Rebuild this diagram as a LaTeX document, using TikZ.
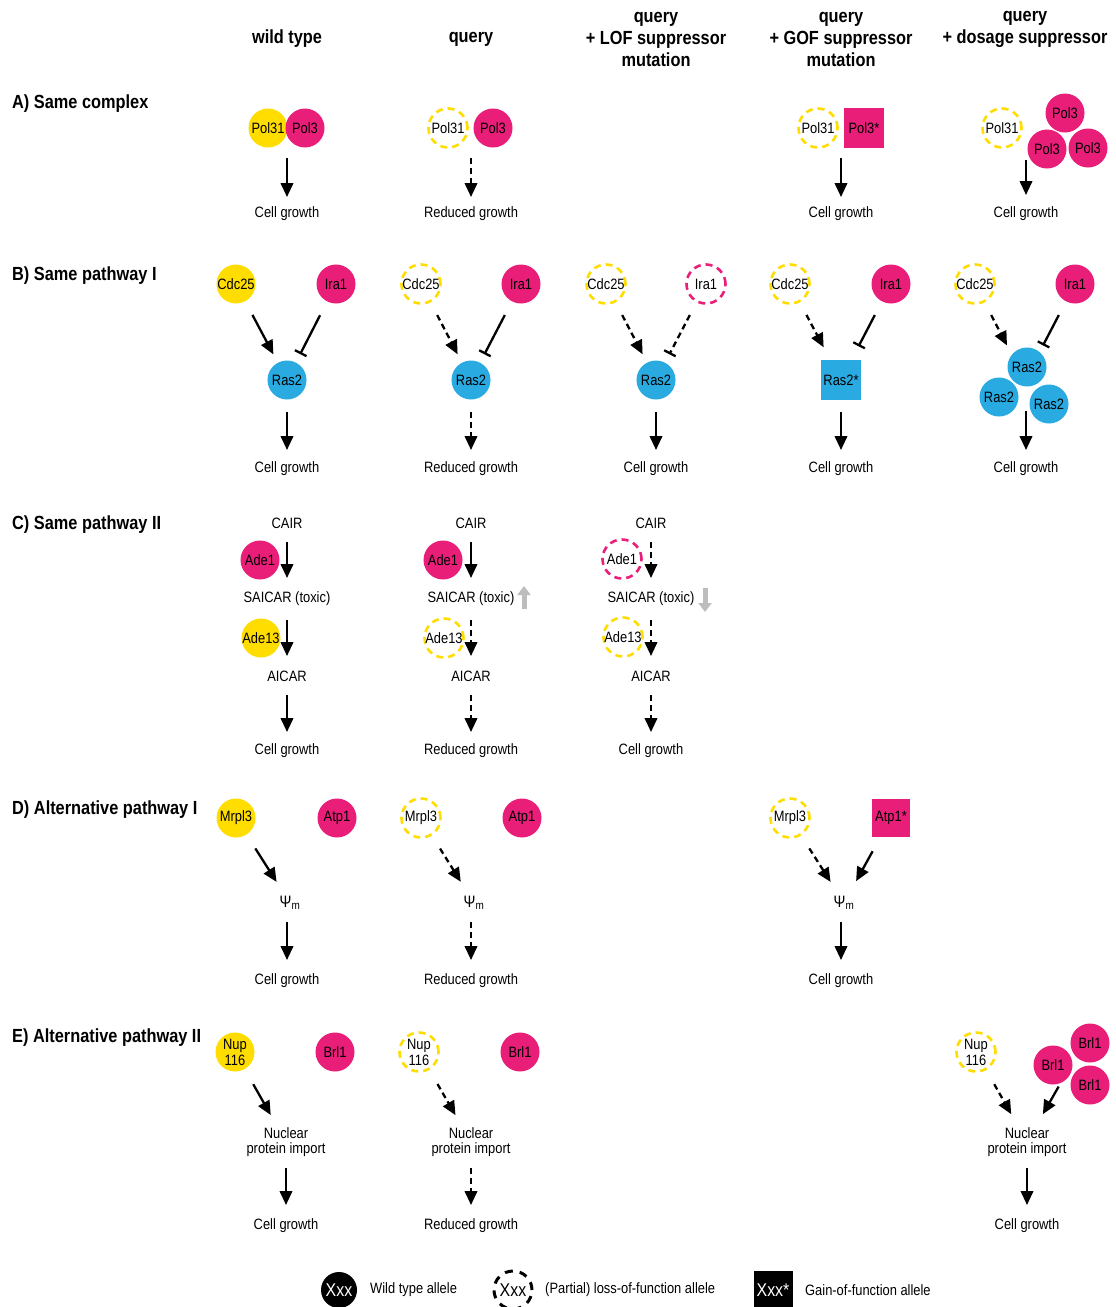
\documentclass[tikz,border=0pt]{standalone}
\usepackage{fontspec}
\setmainfont{Liberation Sans}[FakeStretch=0.86]
\usetikzlibrary{arrows.meta,fit}
\definecolor{yel}{HTML}{FFDD00}
\definecolor{mag}{HTML}{E91E79}
\definecolor{blu}{HTML}{29AAE1}
\definecolor{gry}{HTML}{BDBDBD}
\begin{document}
\begin{tikzpicture}[x=1pt,y=-1pt,
  allele/.style={circle, minimum size=39pt, inner sep=0pt, font=\fontsize{15}{16}\selectfont, align=center},
  wt/.style={allele, fill=#1},
  lf/.style={allele, draw=#1, line width=2.6pt, dash pattern=on 7pt off 5pt},
  gf/.style={rectangle, minimum size=40pt, inner sep=0pt, fill=#1, font=\fontsize{15}{16}\selectfont},
  lb/.style={inner sep=0pt, align=center, font=\fontsize{15}{14.5}\selectfont},
  psi/.style={inner sep=0pt, font=\fontsize{16.5}{16}\selectfont},
  hd/.style={inner sep=0pt, align=center, font=\fontsize{19}{22}\selectfont\bfseries},
  rl/.style={inner sep=0pt, anchor=west, font=\fontsize{19}{19}\selectfont\bfseries},
  act/.style={line width=2.3pt, -{Triangle[length=14pt,width=12.5pt]}},
  dsh/.style={dash pattern=on 6pt off 4pt},
  inh/.style={line width=2.3pt, -{Bar[width=13pt,line width=2.3pt]}},
  grayup/.style={line width=5pt, draw=gry, -{Triangle[length=9pt,width=13pt]}},
  fitbox/.style={inner sep=0pt}
]
\useasboundingbox (0,0) rectangle (1116,1307);

% ---------- headers ----------
\node[hd] (h1) at (287,39) {wild type};
\node[hd] (h2) at (471,39) {query};
\node[hd] (h3) at (656,39) {query\\+ LOF suppressor\\mutation};
\node[hd] (h4) at (841,39) {query\\+ GOF suppressor\\mutation};
\node[hd] (h5) at (1025,29) {query\\+ dosage suppressor};

% ---------- row labels ----------
\node[rl] (rA) at (12,104) {A) Same complex};
\node[rl] (rB) at (12,276) {B) Same pathway I};
\node[rl] (rC) at (12,525) {C) Same pathway II};
\node[rl] (rD) at (12,810) {D) Alternative pathway I};
\node[rl] (rE) at (12,1038) {E) Alternative pathway II};

% ---------- A ----------
\node[wt=yel] (a1x) at (268,128) {Pol31};
\node[wt=mag] (a1y) at (305,128) {Pol3};
\node[lb] (a1g) at (287,214) {Cell growth};
\draw[act, shorten <=30pt, shorten >=17pt] (a1g.center |- a1x.center) -- (a1g.center);

\node[lf=yel] (a2x) at (448,128) {Pol31};
\node[wt=mag] (a2y) at (493,128) {Pol3};
\node[lb] (a2g) at (471,214) {Reduced growth};
\draw[act, dsh, shorten <=30pt, shorten >=17pt] (a2g.center |- a2x.center) -- (a2g.center);

\node[lf=yel] (a4x) at (818,128) {Pol31};
\node[gf=mag] (a4y) at (864,128) {Pol3*};
\node[lb] (a4g) at (841,214) {Cell growth};
\draw[act, shorten <=30pt, shorten >=17pt] (a4g.center |- a4x.center) -- (a4g.center);

\node[lf=yel] (a5x) at (1002,128) {Pol31};
\node[wt=mag] (a5y1) at (1065,113) {Pol3};
\node[wt=mag] (a5y2) at (1047,149) {Pol3};
\node[wt=mag] (a5y3) at (1088,148) {Pol3};
\node[lb] (a5g) at (1026,214) {Cell growth};
\draw[act, shorten <=32pt, shorten >=19pt] (a5g.center |- a5x.center) -- (a5g.center);

% ---------- B ----------
\node[wt=yel] (b1c) at (236,284) {Cdc25};
\node[wt=mag] (b1i) at (336,284) {Ira1};
\node[wt=blu] (b1r) at (287,380) {Ras2};
\node[lb] (b1g) at (287,469) {Cell growth};
\draw[act, shorten <=35pt, shorten >=29pt] (b1c.center) -- (b1r.center);
\draw[inh, shorten <=35pt, shorten >=29pt] (b1i.center) -- (b1r.center);
\draw[act, shorten <=32pt, shorten >=19pt] (b1r.center) -- (b1g.center);

\node[lf=yel] (b2c) at (421,284) {Cdc25};
\node[wt=mag] (b2i) at (521,284) {Ira1};
\node[wt=blu] (b2r) at (471,380) {Ras2};
\node[lb] (b2g) at (471,469) {Reduced growth};
\draw[act, dsh, shorten <=35pt, shorten >=29pt] (b2c.center) -- (b2r.center);
\draw[inh, shorten <=35pt, shorten >=29pt] (b2i.center) -- (b2r.center);
\draw[act, dsh, shorten <=32pt, shorten >=19pt] (b2r.center) -- (b2g.center);

\node[lf=yel] (b3c) at (606,284) {Cdc25};
\node[lf=mag] (b3i) at (706,284) {Ira1};
\node[wt=blu] (b3r) at (656,380) {Ras2};
\node[lb] (b3g) at (656,469) {Cell growth};
\draw[act, dsh, shorten <=35pt, shorten >=29pt] (b3c.center) -- (b3r.center);
\draw[inh, dsh, shorten <=35pt, shorten >=29pt] (b3i.center) -- (b3r.center);
\draw[act, shorten <=32pt, shorten >=19pt] (b3r.center) -- (b3g.center);

\node[lf=yel] (b4c) at (790,284) {Cdc25};
\node[wt=mag] (b4i) at (891,284) {Ira1};
\node[gf=blu] (b4r) at (841,380) {Ras2*};
\node[lb] (b4g) at (841,469) {Cell growth};
\draw[act, dsh, shorten <=35pt, shorten >=37pt] (b4c.center) -- (b4r.center);
\draw[inh, shorten <=35pt, shorten >=38pt] (b4i.center) -- (b4r.center);
\draw[act, shorten <=32pt, shorten >=19pt] (b4r.center) -- (b4g.center);

\node[lf=yel] (b5c) at (975,284) {Cdc25};
\node[wt=mag] (b5i) at (1075,284) {Ira1};
\node[wt=blu] (b5r1) at (1027,367) {Ras2};
\node[wt=blu] (b5r2) at (999,397) {Ras2};
\node[wt=blu] (b5r3) at (1049,404) {Ras2};
\coordinate (b5t) at (1025,380);
\node[lb] (b5g) at (1026,469) {Cell growth};
\draw[act, dsh, shorten <=35pt, shorten >=39pt] (b5c.center) -- (b5t);
\draw[inh, shorten <=35pt, shorten >=39pt] (b5i.center) -- (b5t);
\draw[act, shorten <=31pt, shorten >=19pt] (b5g.center |- b5t) -- (b5g.center);

% ---------- C ----------
\node[lb] (c1a) at (287,523) {CAIR};
\node[lb] (c1b) at (287,599) {SAICAR (toxic)};
\node[lb] (c1c) at (287,676) {AICAR};
\node[lb] (c1g) at (287,751) {Cell growth};
\node[wt=mag] (c1e) at (260,560) {Ade1};
\node[wt=yel] (c1f) at (261,638) {Ade13};
\draw[act, shorten <=19pt, shorten >=21pt] (c1a.center) -- (c1b.center);
\draw[act, shorten <=21pt, shorten >=20pt] (c1b.center) -- (c1c.center);
\draw[act, shorten <=19pt, shorten >=19pt] (c1c.center) -- (c1g.center);

\node[lb] (c2a) at (471,523) {CAIR};
\node[lb] (c2b) at (471,599) {SAICAR (toxic)};
\node[lb] (c2c) at (471,676) {AICAR};
\node[lb] (c2g) at (471,751) {Reduced growth};
\node[wt=mag] (c2e) at (443,560) {Ade1};
\node[lf=yel] (c2f) at (444,638) {Ade13};
\draw[act, shorten <=19pt, shorten >=21pt] (c2a.center) -- (c2b.center);
\draw[act, dsh, shorten <=21pt, shorten >=20pt] (c2b.center) -- (c2c.center);
\draw[act, dsh, shorten <=19pt, shorten >=19pt] (c2c.center) -- (c2g.center);
\coordinate (c2u1) at (524,609);
\coordinate (c2u2) at (524,586);
\draw[grayup] (c2u1) -- (c2u2);

\node[lb] (c3a) at (651,523) {CAIR};
\node[lb] (c3b) at (651,599) {SAICAR (toxic)};
\node[lb] (c3c) at (651,676) {AICAR};
\node[lb] (c3g) at (651,751) {Cell growth};
\node[lf=mag] (c3e) at (622,559) {Ade1};
\node[lf=yel] (c3f) at (623,637) {Ade13};
\draw[act, dsh, shorten <=19pt, shorten >=21pt] (c3a.center) -- (c3b.center);
\draw[act, dsh, shorten <=21pt, shorten >=20pt] (c3b.center) -- (c3c.center);
\draw[act, dsh, shorten <=19pt, shorten >=19pt] (c3c.center) -- (c3g.center);
\coordinate (c3u1) at (705,588);
\coordinate (c3u2) at (705,612);
\draw[grayup] (c3u1) -- (c3u2);

% ---------- D ----------
\node[wt=yel] (d1m) at (236,818) {Mrpl3};
\node[wt=mag] (d1a) at (337,818) {Atp1};
\node[psi] (d1p) at (290,903) {Ψ\textsubscript{m}};
\node[lb] (d1g) at (287,981) {Cell growth};
\draw[act, shorten <=36pt, shorten >=25pt] (d1m.center) -- (d1p.center);
\draw[act, shorten <=19pt, shorten >=21pt] (d1g.center |- d1p.center) -- (d1g.center);

\node[lf=yel] (d2m) at (421,818) {Mrpl3};
\node[wt=mag] (d2a) at (522,818) {Atp1};
\node[psi] (d2p) at (474,903) {Ψ\textsubscript{m}};
\node[lb] (d2g) at (471,981) {Reduced growth};
\draw[act, dsh, shorten <=36pt, shorten >=25pt] (d2m.center) -- (d2p.center);
\draw[act, dsh, shorten <=19pt, shorten >=21pt] (d2g.center |- d2p.center) -- (d2g.center);

\node[lf=yel] (d4m) at (790,818) {Mrpl3};
\node[gf=mag, minimum size=38pt] (d4a) at (891,818) {Atp1*};
\node[psi] (d4p) at (844,903) {Ψ\textsubscript{m}};
\node[lb] (d4g) at (841,981) {Cell growth};
\draw[act, dsh, shorten <=36pt, shorten >=25pt] (d4m.center) -- (d4p.center);
\draw[act, shorten <=38pt, shorten >=25pt] (d4a.center) -- (d4p.center);
\draw[act, shorten <=19pt, shorten >=21pt] (d4g.center |- d4p.center) -- (d4g.center);

% ---------- E ----------
\node[wt=yel] (e1n) at (235,1052) {Nup\\116};
\node[wt=mag] (e1b) at (335,1052) {Brl1};
\node[lb] (e1i) at (286,1142) {Nuclear\\protein import};
\node[lb] (e1g) at (286,1226) {Cell growth};
\draw[act, shorten <=37pt, shorten >=31pt] (e1n.center) -- (e1i.center);
\draw[act, shorten <=26pt, shorten >=21pt] (e1i.center) -- (e1g.center);

\node[lf=yel] (e2n) at (419,1052) {Nup\\116};
\node[wt=mag] (e2b) at (520,1052) {Brl1};
\node[lb] (e2i) at (471,1142) {Nuclear\\protein import};
\node[lb] (e2g) at (471,1226) {Reduced growth};
\draw[act, dsh, shorten <=37pt, shorten >=31pt] (e2n.center) -- (e2i.center);
\draw[act, dsh, shorten <=26pt, shorten >=21pt] (e2i.center) -- (e2g.center);

\node[lf=yel] (e5n) at (976,1052) {Nup\\116};
\node[wt=mag] (e5b1) at (1053,1065) {Brl1};
\node[wt=mag] (e5b2) at (1090,1043) {Brl1};
\node[wt=mag] (e5b3) at (1090,1085) {Brl1};
\node[fitbox, fit=(e5b1)(e5b2)(e5b3)] (e5b) {};
\node[lb] (e5i) at (1027,1142) {Nuclear\\protein import};
\node[lb] (e5g) at (1027,1226) {Cell growth};
\draw[act, dsh, shorten <=37pt, shorten >=32pt] (e5n.center) -- (e5i.center);
\draw[act, shorten <=26pt, shorten >=32pt] (e5b.center) -- (e5i.center);
\draw[act, shorten <=26pt, shorten >=21pt] (e5i.center) -- (e5g.center);

% ---------- legend ----------
\node[wt=black, minimum size=36pt, text=white, font=\fontsize{18.5}{18}\selectfont] (l1) at (339,1290) {Xxx};
\node[lb, anchor=west] (l1t) at (370,1290) {Wild type allele};
\node[lf=black, minimum size=38pt, line width=3pt, dash pattern=on 8pt off 7pt, font=\fontsize{18.5}{18}\selectfont] (l2) at (513,1290) {Xxx};
\node[lb, anchor=west] (l2t) at (545,1290) {(Partial) loss-of-function allele};
\node[gf=black, minimum size=39pt, text=white, font=\fontsize{18.5}{18}\selectfont] (l3) at (773,1290) {Xxx*};
\node[lb, anchor=west] (l3t) at (805,1290) {Gain-of-function allele};
\end{tikzpicture}
\end{document}
